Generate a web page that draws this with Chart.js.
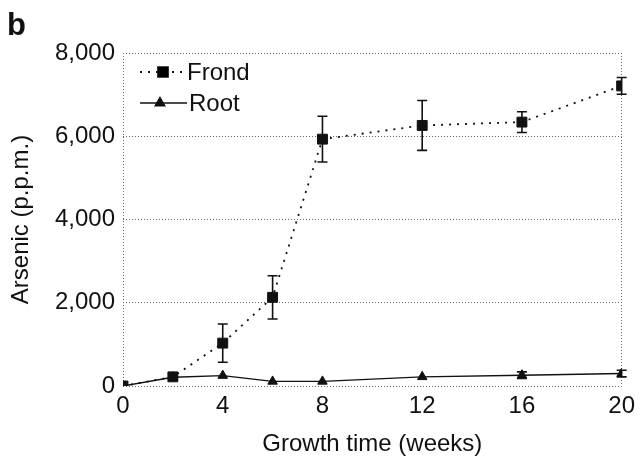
<!DOCTYPE html>
<html>
<head>
<meta charset="utf-8">
<script src="https://cdn.jsdelivr.net/npm/chart.js@4/dist/chart.umd.min.js"></script>
<style>
  html, body { margin: 0; padding: 0; background: #fff; }
  #wrap { position: relative; width: 641px; height: 459px; }
</style>
</head>
<body>
<div id="wrap"><canvas id="myChart" width="641" height="459"></canvas></div>
<script>
// tick labels on the x axis (evenly spaced categories)
var weekTicks = ['0', '4', '8', '12', '16', '20'];
// sampling times, expressed as positions on that tick axis
var samplePos = [0, 0.5, 1, 1.5, 2, 3, 4, 5];
var frond = [0, 220, 1030, 2130, 5930, 6260, 6340, 7210];
var frondErr = [0, 0, 460, 520, 550, 600, 250, 200];
var root = [0, 210, 250, 110, 110, 220, 260, 300];
var rootErr = [0, 0, 0, 0, 0, 0, 80, 80];

var ink = '#111';
var FONT = '"Liberation Sans", Arial, sans-serif';

function pts(ys) {
    return samplePos.map(function (x, i) { return { x: x, y: ys[i] }; });
}

var errorBars = {
    id: 'errorBars',
    afterDatasetsDraw: function (chart) {
        var ctx = chart.ctx, ys = chart.scales.y;
        chart.data.datasets.forEach(function (ds, di) {
            if (!ds.errors) return;
            var meta = chart.getDatasetMeta(di);
            ctx.save();
            ctx.strokeStyle = ink;
            ctx.lineWidth = 1.6;
            meta.data.forEach(function (pt, i) {
                var e = ds.errors[i];
                if (!e) return;
                var top = ys.getPixelForValue(ds.data[i].y + e);
                var bot = ys.getPixelForValue(ds.data[i].y - e);
                ctx.beginPath();
                ctx.moveTo(pt.x, top); ctx.lineTo(pt.x, bot);
                ctx.moveTo(pt.x - 5, top); ctx.lineTo(pt.x + 5, top);
                ctx.moveTo(pt.x - 5, bot); ctx.lineTo(pt.x + 5, bot);
                ctx.stroke();
            });
            ctx.restore();
        });
    }
};

var innerLegend = {
    id: 'innerLegend',
    afterDraw: function (chart) {
        var ctx = chart.ctx, a = chart.chartArea;
        var rows = [
            { ds: chart.data.datasets[0], y: a.top + 19, x0: a.left + 17, x1: a.left + 62, mx: a.left + 40 },
            { ds: chart.data.datasets[1], y: a.top + 50, x0: a.left + 17, x1: a.left + 64, mx: a.left + 37 }
        ];
        ctx.save();
        rows.forEach(function (r) {
            ctx.strokeStyle = ink;
            ctx.lineWidth = r.ds.borderWidth;
            ctx.setLineDash(r.ds.borderDash || []);
            ctx.beginPath();
            ctx.moveTo(r.x0, r.y); ctx.lineTo(r.x1, r.y);
            ctx.stroke();
            ctx.setLineDash([]);
            Chart.helpers.drawPoint(ctx, {
                pointStyle: r.ds.pointStyle, radius: r.ds.pointRadius, borderWidth: 1
            }, r.mx, r.y);
            ctx.fill();
            ctx.fillStyle = ink;
            ctx.font = '24px ' + FONT;
            ctx.textBaseline = 'middle';
            ctx.textAlign = 'left';
            ctx.fillText(r.ds.label, r.x1 + 2, r.y + 1);
        });
        ctx.restore();
    }
};

var panelLetter = {
    id: 'panelLetter',
    afterDraw: function (chart) {
        var ctx = chart.ctx;
        ctx.save();
        ctx.fillStyle = ink;
        ctx.font = 'bold 31px ' + FONT;
        ctx.textBaseline = 'alphabetic';
        ctx.fillText('b', 7, 35);
        ctx.restore();
    }
};

Chart.defaults.font.family = FONT;
Chart.defaults.color = ink;

new Chart(document.getElementById('myChart').getContext('2d'), {
    type: 'line',
    data: {
        datasets: [{
            label: 'Frond',
            data: pts(frond),
            errors: frondErr,
            borderColor: ink,
            backgroundColor: ink,
            borderWidth: 1.8,
            borderDash: [2, 6],
            pointStyle: 'rect',
            pointRadius: 7,
            pointBorderWidth: 1,
            tension: 0
        }, {
            label: 'Root',
            data: pts(root),
            errors: rootErr,
            borderColor: ink,
            backgroundColor: ink,
            borderWidth: 1.4,
            pointStyle: 'triangle',
            pointRadius: 5.5,
            pointBorderWidth: 1,
            tension: 0
        }]
    },
    options: {
        responsive: false,
        animation: false,
        layout: { padding: { left: 0, top: 53, right: 14, bottom: 0 } },
        plugins: { legend: { display: false }, tooltip: { enabled: false } },
        scales: {
            x: {
                type: 'linear',
                min: 0, max: 5,
                afterFit: function (s) { s.height = 73; },
                ticks: {
                    stepSize: 1,
                    padding: 6,
                    font: { size: 24 },
                    color: ink,
                    callback: function (v) { return weekTicks[v]; }
                },
                grid: {
                    drawTicks: false,
                    lineWidth: 1,
                    color: function (c) {
                        return (c.tick && (c.tick.value === 0 || c.tick.value === 5)) ? '#666' : 'rgba(0,0,0,0)';
                    }
                },
                border: { display: false, dash: [1, 2] },
                title: {
                    display: true, text: 'Growth time (weeks)',
                    font: { size: 24 }, color: ink,
                    padding: { top: 0, bottom: 0 }
                }
            },
            y: {
                min: 0, max: 8000,
                afterFit: function (s) { s.width = 123; },
                ticks: {
                    stepSize: 2000,
                    padding: 8,
                    font: { size: 24 },
                    color: ink,
                    callback: function (v) { return v.toLocaleString('en-US'); }
                },
                grid: { drawTicks: false, color: '#666', lineWidth: 1 },
                border: { display: false, dash: [1, 2] },
                title: {
                    display: true, text: 'Arsenic (p.p.m.)',
                    font: { size: 24 }, color: ink,
                    padding: { top: 7, bottom: 4 }
                }
            }
        }
    },
    plugins: [errorBars, innerLegend, panelLetter]
});
</script>
</body>
</html>
